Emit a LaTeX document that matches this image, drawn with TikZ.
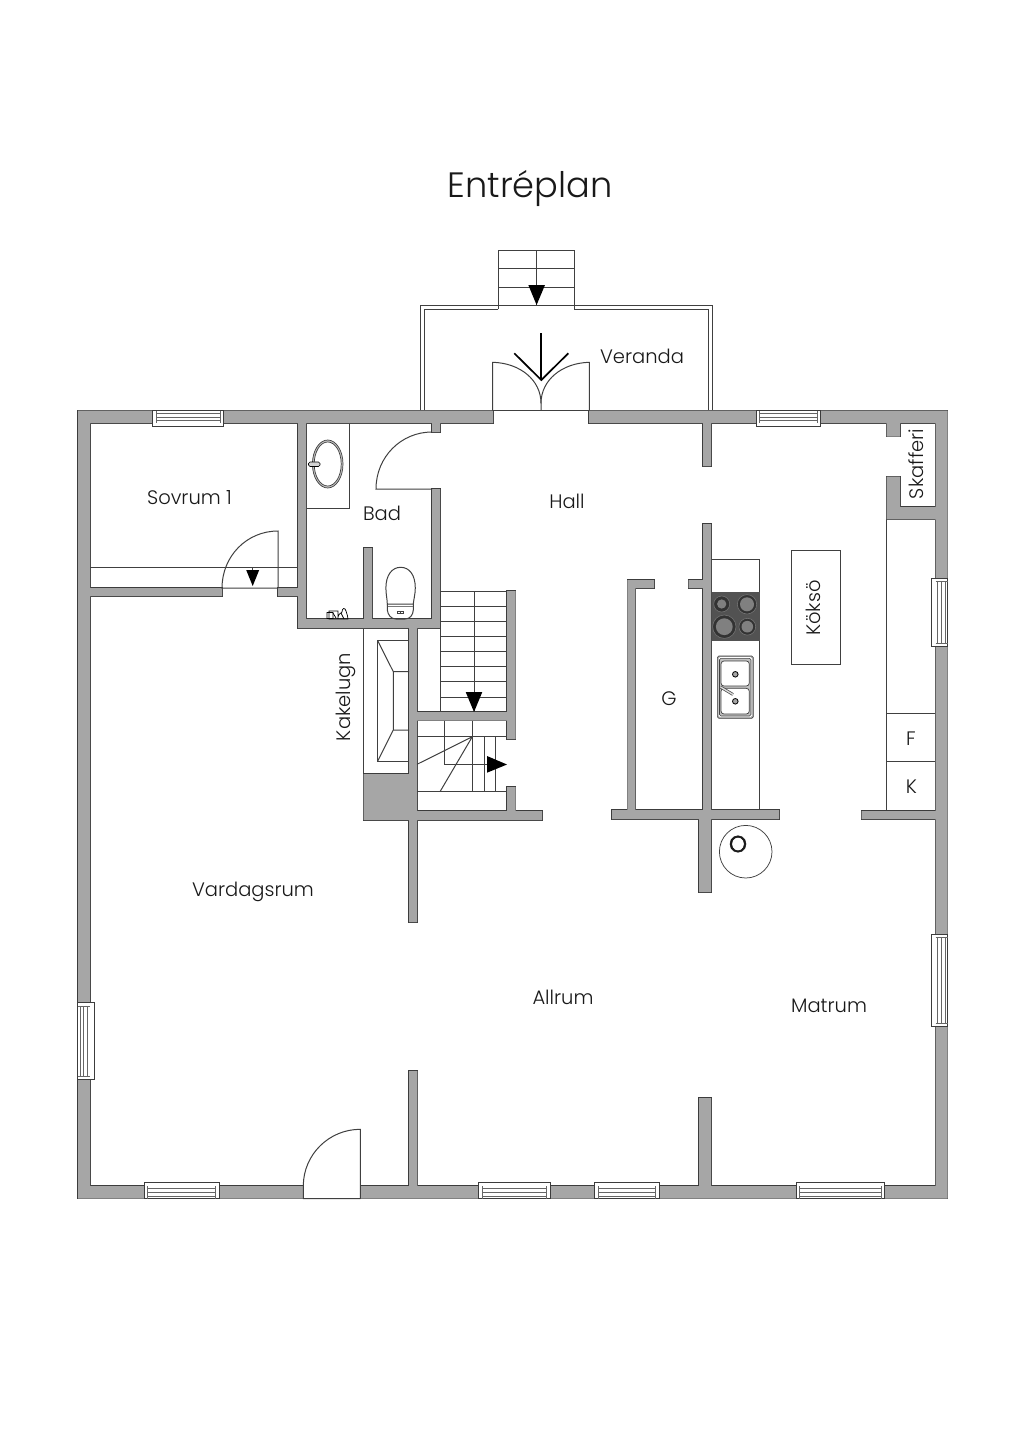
\documentclass[tikz,border=0pt]{standalone}
\usepackage{fontspec}
\setmainfont{Poppins}[UprightFont=* Light]
\definecolor{wallc}{HTML}{A6A6A6}
\definecolor{edgec}{HTML}{3C3C3C}
\definecolor{linec}{HTML}{404040}
\tikzset{
  wallline/.style={draw=edgec,line width=1.1pt},
  wallfill/.style={fill=wallc},
  thin line/.style={draw=linec,line width=1pt},
  fine line/.style={draw=linec,line width=0.75pt},
  arrowtri/.style={fill=black,draw=none},
  label/.style={font=\fontsize{19.5}{24}\selectfont,text=black!90,inner sep=0pt},
  winbox/.style={fill=white,draw=edgec,line width=0.8pt},
  winin/.style={draw=linec!80,line width=0.7pt},
}
\newcommand{\wallrects}{
  (78,410.5) rectangle (493,423) (589,410.5) rectangle (947.5,423)
  (78,410.5) rectangle (90,1198.5) (935.5,410.5) rectangle (947.5,1198.5)
  (78,1186) rectangle (303.3,1198.5) (360.3,1186) rectangle (947.5,1198.5)
  (90,588) rectangle (222,596) (278,588) rectangle (298,596)
  (298,423) rectangle (306,628) (298,619) rectangle (440,628)
  (432,423) rectangle (440,432) (432,489) rectangle (440,628)
  (364,548) rectangle (372,619)
  (409,628) rectangle (417,922)
  (507,591) rectangle (515.7,739) (417,712) rectangle (507,720.7)
  (507,787) rectangle (515.7,811) (363.7,811) rectangle (542,820)
  (363.7,774) rectangle (409,820)
  (703,423) rectangle (711,466) (703,524) rectangle (711,819)
  (699,819) rectangle (711,892) (612,810) rectangle (779,819)
  (627.3,580) rectangle (635.3,810) (627.3,580) rectangle (654,588)
  (688.7,580) rectangle (703,588)
  (886.7,423) rectangle (900,436.7) (886.7,476.7) rectangle (900,519.3)
  (886.7,507) rectangle (947,519.3) (861.7,811) rectangle (935.5,819)
  (409,1071) rectangle (417.3,1186) (699,1098) rectangle (711,1186)
}
\newcommand{\wintop}[2]{
  \path[winbox] (#1,410) rectangle (#2,426.7);
  \path[winin] (#1+3.4,410.5) -- (#1+3.4,423) (#2-3.4,410.5) -- (#2-3.4,423);
  \path[winin] (#1+3.4,413.3) rectangle (#2-3.4,420.7) (#1+3.4,417) -- (#2-3.4,417);
}
\newcommand{\winbot}[2]{
  \path[winbox] (#1,1182.3) rectangle (#2,1198.7);
  \path[winin] (#1+3.4,1186) -- (#1+3.4,1198.7) (#2-3.4,1186) -- (#2-3.4,1198.7);
  \path[winin] (#1+3.4,1188.7) rectangle (#2-3.4,1196.7) (#1+3.4,1192.7) -- (#2-3.4,1192.7);
}
\newcommand{\winright}[2]{
  \path[winbox] (931.3,#1) rectangle (947.5,#2);
  \path[winin] (935.5,#1+3.4) -- (947.5,#1+3.4) (935.5,#2-3.4) -- (947.5,#2-3.4);
  \path[winin] (937.3,#1+3.4) rectangle (945.5,#2-3.4) (941.4,#1+3.4) -- (941.4,#2-3.4);
}
\newcommand{\winleft}[2]{
  \path[winbox] (77.5,#1) rectangle (94,#2);
  \path[winin] (77.5,#1+3.4) -- (90,#1+3.4) (77.5,#2-3.4) -- (90,#2-3.4);
  \path[winin] (80,#1+3.4) rectangle (87,#2-3.4) (83.5,#1+3.4) -- (83.5,#2-3.4);
}
\begin{document}
\begin{tikzpicture}[x=1pt,y=-1pt]
\useasboundingbox (0,0) rectangle (1024,1448);
\fill[white] (0,0) rectangle (1024,1448);

% ---- kitchen counters and built-ins under the walls
\path[fine line] (711,559) rectangle (759.7,811);
\path[thin line] (886.7,519) -- (886.7,811) (886.7,713.3) -- (935.5,713.3) (886.7,761.7) -- (935.5,761.7);
\path[fine line] (791.7,550.7) rectangle (840,664);
\path[fine line] (306,423) rectangle (349.7,508.7);
\path[fine line] (363.7,628) rectangle (409,774);

% ---- walls
\path[wallline] \wallrects;
\path[wallfill] \wallrects;

% ---- windows
\wintop{152.7}{223.3}
\wintop{756}{820.5}
\winbot{144.4}{219}
\winbot{478.8}{550}
\winbot{594.8}{659.2}
\winbot{796}{884.5}
\winright{578.3}{646.7}
\winright{934.3}{1026.7}
\winleft{1002.7}{1079.3}

% ---- veranda and outside steps
\path[thin line] (420,410) -- (420,305.3) -- (498.3,305.3) (574.3,305.3) -- (712.7,305.3) -- (712.7,410);
\path[thin line] (424.7,410) -- (424.7,309.3) -- (498.3,309.3) (574.3,309.3) -- (708.3,309.3) -- (708.3,410);
\path[thin line] (498.3,309.3) -- (498.3,250) -- (574.3,250) -- (574.3,309.3);
\path[thin line] (498.3,305.3) -- (574.3,305.3) (498.3,268.3) -- (574.3,268.3) (498.3,287) -- (574.3,287) (536.5,250) -- (536.5,305);
\fill[arrowtri] (528.3,285) -- (545,285) -- (536.6,305) -- cycle;

% ---- entrance double door
\path[thin line] (492.7,410.7) -- (492.7,362.3) .. controls (520,363) and (541,380) .. (541,403.3) -- (541,410.7);
\path[thin line] (589.3,410.7) -- (589.3,362.3) .. controls (562,363) and (541,380) .. (541,403.3);
\path[thin line] (492.7,410.7) -- (589.3,410.7);
\draw[black,line width=1.7pt] (541.3,333.3) -- (541.3,380);
\draw[black,line width=1.7pt,line join=miter] (514.3,353.3) -- (541.3,380) -- (568.3,353.3);

% ---- doors
\path[thin line] (278,588) -- (278,531) .. controls (246.5,531) and (222,556.5) .. (222,588) -- (278,588);
\path[thin line] (90,567.7) -- (298,567.7);
\path[thin line] (252.7,567.7) -- (252.7,572);
\fill[arrowtri] (246.2,570) -- (259.2,570) -- (252.7,586) -- cycle;
\path[thin line] (432,432) .. controls (401,432) and (376,457) .. (376,489) -- (432,489);
\path[thin line] (360.3,1198.5) -- (360.3,1129.3) .. controls (328.8,1129.3) and (303.3,1154.8) .. (303.3,1186) -- (303.3,1198.5) -- (360.3,1198.5);

% ---- bathroom fixtures
\draw[draw=linec,line width=0.7pt,fill=wallc!70] (327.7,464) ellipse [x radius=15.3,y radius=24];
\draw[draw=linec,line width=0.7pt,fill=white] (327.7,464) ellipse [x radius=13.5,y radius=22];
\draw[draw=black,line width=0.6pt,fill=wallc!50,rounded corners=1.5pt] (308.5,462) rectangle (320,466.5);
\path[thin line] (385.9,588) .. controls (385.9,575) and (392,567.3) .. (400.7,567.3) .. controls (409.4,567.3) and (415.3,575) .. (415.3,588) .. controls (415.3,594) and (413.6,600) .. (413.3,604) -- (387.3,604) .. controls (387.3,600) and (385.9,594) .. (385.9,588) -- cycle;
\path[thin line] (387.3,604) -- (387.3,610) .. controls (388,615) and (391,619) .. (396,619) -- (405,619) .. controls (410,619) and (413,615) .. (413.3,610) -- (413.3,604);
\path[draw=linec!70,line width=0.6pt] (387.5,606.5) -- (413.2,606.5);
\draw[linec,line width=0.45pt] (397.7,611) rectangle (403.7,613) (400.7,611) -- (400.7,613);
% small items on the bathroom floor
\draw[black,line width=0.7pt] (327,612.5) rectangle (333,618.5) (329,611) rectangle (338,619) (338,619) .. controls (338,612) and (341,615) .. (342,612) .. controls (342,608) and (345,607) .. (346,611) .. controls (347,614) and (348,617) .. (348,619) -- (338,619);
\draw[black,line width=0.7pt] (333,613) -- (336,618) (341,613) -- (344,619);

% ---- upper stairs
\path[thin line] (440,591) -- (507,591) (440,591) -- (440,712);
\foreach \yy in {606,621.6,636.7,651.7,666.7,681.7,697.3}{\path[thin line] (440,\yy) -- (507,\yy);}
\path[thin line] (474,591) -- (474,712);
\fill[arrowtri] (465.7,692) -- (482.3,692) -- (474,712) -- cycle;

% ---- lower winding stairs
\path[thin line] (417,736.7) -- (507,736.7) (417,791.7) -- (507,791.7);
\path[thin line] (444.3,720.7) -- (444.3,764.3) -- (487,764.3);
\path[thin line] (472.3,720.7) -- (472.3,791.7) (484,736.7) -- (484,791.7) (495.7,736.7) -- (495.7,791.7);
\path[thin line] (472.3,736.7) -- (417,764.3) (472.3,736.7) -- (440,791.7);
\fill[arrowtri] (487,756) -- (507,764.5) -- (487,772.7) -- cycle;

% ---- tiled stove
\path[thin line] (409,640.7) -- (377.7,640.7) -- (377.7,761) -- (409,761);
\path[thin line] (377.7,640.7) -- (393.3,671.7) -- (409,671.7) (393.3,671.7) -- (393.3,730) -- (409,730) (393.3,730) -- (377.7,761);

% ---- hob
\fill[fill=black!68] (711.5,592) rectangle (759.7,641);
\foreach \cx/\cy/\ro/\ri in {721.7/604/8/4.6,747/604.3/9.7/7,724.3/626.7/11.7/8.4,747.3/626.7/8.4/5.8}{
  \draw[draw=black!55,line width=0.6pt,fill=black!80] (\cx,\cy) circle (\ro);
  \fill[fill=black!50] (\cx,\cy) circle (\ri);
}

% ---- sink
\draw[draw=linec,line width=0.6pt,fill=wallc,rounded corners=1.5pt] (717.3,656) rectangle (753.3,718.3);
\draw[fill=white,draw=none,rounded corners=1.5pt] (718.5,657.2) rectangle (752.1,717.1);
\draw[draw=linec,line width=0.6pt,fill=wallc!70,rounded corners=1.5pt] (719.5,658.3) rectangle (751,716);
\draw[draw=linec,line width=0.7pt,fill=white,rounded corners=3pt] (721,661) rectangle (749.3,686);
\draw[draw=linec,line width=0.7pt,fill=white,rounded corners=3pt] (721,688.3) rectangle (749.3,714);
\foreach \dy in {674.3,701.3}{
  \draw[draw=black,line width=0.8pt,fill=wallc] (735.3,\dy) circle (2.8);
}
\draw[draw=linec,line width=2.8pt] (720.5,687) -- (733,694.5);
\draw[draw=wallc!40,line width=1.4pt] (720.5,687) -- (733,694.5);

% ---- round table
\path[fine line] (745.7,851.7) circle (26.3);

% ---- labels
\node[label,font=\fontsize{35.2}{42}\selectfont] (title) at (530,188.5) {Entréplan};
\node[label] (veranda) at (642,356) {Veranda};
\node[label] (sovrum) at (189.5,498) {Sovrum 1};
\node[label] (bad) at (382,513) {Bad};
\node[label] (hall) at (567,501) {Hall};
\node[label,rotate=90] (skafferi) at (916,464) {Skafferi};
\node[label,rotate=90] (koksö) at (813.5,608) {Köksö};
\node[label,rotate=90] (kakelugn) at (346,697) {Kakelugn};
\node[label] (g) at (669,699) {G};
\node[label] (f) at (911,738.5) {F};
\node[label] (k) at (911.5,787) {K};
\node[label,font=\fontsize{23}{26}\selectfont] (o) at (738,844) {\addfontfeature{FakeBold=2.6}O};
\node[label] (vardagsrum) at (253,892) {Vardagsrum};
\node[label] (allrum) at (563,997) {Allrum};
\node[label] (matrum) at (829,1005.5) {Matrum};
\end{tikzpicture}
\end{document}
